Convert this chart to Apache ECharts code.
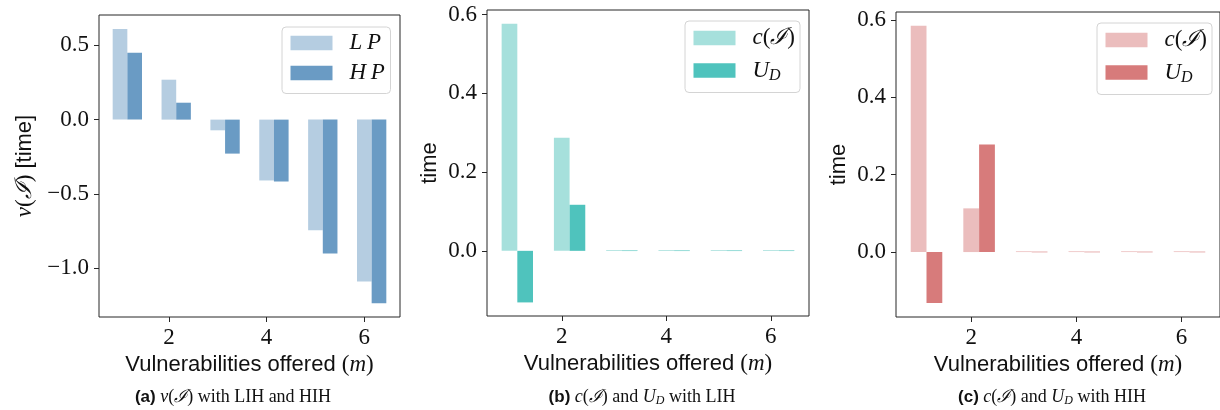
<!DOCTYPE html>
<html>
<head>
<meta charset="utf-8">
<script src="https://cdn.jsdelivr.net/npm/echarts@6/dist/echarts.min.js"></script>
<style>html,body{margin:0;padding:0;background:#fff}#c{width:1220px;height:410px}</style>
</head>
<body>
<div id="c"></div>
<script>
// ---- data ----
const m = [1, 2, 3, 4, 5, 6];
const nuLP = [0.61, 0.269, -0.072, -0.41, -0.745, -1.09];
const nuHP = [0.451, 0.114, -0.229, -0.417, -0.902, -1.238];
const cLIH = [0.577, 0.287, 0.002, 0.002, 0.002, 0.002];
const udLIH = [-0.131, 0.117, 0.001, 0.001, 0.001, 0.001];
const cHIH = [0.585, 0.113, 0.002, 0.002, 0.002, 0.002];
const udHIH = [-0.132, 0.278, 0.001, 0.001, 0.001, 0.001];
const xTicks = [2, 4, 6];
const yTicksA = [-1.0, -0.5, 0.0, 0.5];
const yTicksBC = [0.0, 0.2, 0.4, 0.6];

const SERIF = "'Liberation Serif','DejaVu Serif',serif";
const SANS = "'Liberation Sans','DejaVu Sans',sans-serif";
const FRAME = '#262626';

const grids = [
  {left: 99, top: 15, width: 301, height: 302},
  {left: 487, top: 10, width: 322, height: 306},
  {left: 896, top: 12, width: 326, height: 305}
].map(g => Object.assign({show: true, borderColor: FRAME, borderWidth: 1, backgroundColor: '#fff'}, g));

function fmt(v) {
  const s = Math.abs(v).toFixed(1);
  return (v < -1e-9 ? '\u2212' : '') + s;
}

const xAxes = [0, 1, 2].map(i => ({
  type: 'value', gridIndex: i, min: 0.57, max: 6.73,
  axisLine: {show: false, onZero: false},
  splitLine: {show: false},
  axisTick: {show: true, length: 5, customValues: xTicks, lineStyle: {color: FRAME, width: 1}},
  axisLabel: {customValues: xTicks, margin: 9, color: '#111', fontFamily: SERIF, fontSize: 23},
  name: 'Vulnerabilities offered {m|(}{i|m}{m|)}',
  nameLocation: 'middle', nameGap: 36,
  nameTextStyle: {fontFamily: SANS, fontSize: 22, color: '#111',
    rich: {m: {fontFamily: SERIF, fontSize: 23, color: '#111'},
           i: {fontFamily: SERIF, fontSize: 23, fontStyle: 'italic', color: '#111'}}}
}));

const yRanges = [[-1.33, 0.705], [-0.1655, 0.6117], [-0.1679, 0.6207]];
const yTicks = [yTicksA, yTicksBC, yTicksBC];
const yNames = ['{i|\u03BD}{m|(}{i|\u2110}{m|)} [time]', 'time', 'time'];
const yGaps = [63, 46, 46];
const yAxes = [0, 1, 2].map(i => ({
  type: 'value', gridIndex: i, min: yRanges[i][0], max: yRanges[i][1],
  axisLine: {show: false},
  splitLine: {show: false},
  axisTick: {show: true, length: 5, customValues: yTicks[i], lineStyle: {color: FRAME, width: 1}},
  axisLabel: {customValues: yTicks[i], margin: 10, color: '#111', fontFamily: SERIF, fontSize: 23, formatter: fmt},
  name: yNames[i], nameLocation: 'middle', nameRotate: 90, nameGap: yGaps[i],
  nameTextStyle: {fontFamily: SANS, fontSize: 22, color: '#111',
    rich: {m: {fontFamily: SERIF, fontSize: 23, color: '#111'},
           i: {fontFamily: SERIF, fontSize: 23, fontStyle: 'italic', color: '#111'}}}
}));

const BAR_W = 0.3;
function barSeries(name, values, gi, offset, color) {
  return {
    type: 'custom', name: name, xAxisIndex: gi, yAxisIndex: gi,
    itemStyle: {color: color},
    data: m.map((x, k) => [x, values[k]]),
    renderItem: function (params, api) {
      const x = api.value(0), v = api.value(1);
      const p0 = api.coord([x + offset - BAR_W / 2, 0]);
      const p1 = api.coord([x + offset + BAR_W / 2, v]);
      return {
        type: 'rect',
        shape: {x: p0[0], y: Math.min(p0[1], p1[1]), width: p1[0] - p0[0], height: Math.max(Math.abs(p1[1] - p0[1]), 0.6)},
        style: {fill: color}
      };
    }
  };
}

const series = [
  barSeries('LP', nuLP, 0, 0, '#b5cde1'),
  barSeries('HP', nuHP, 0, 0.3, '#6a9bc4'),
  barSeries('cL', cLIH, 1, 0, '#a6e0dc'),
  barSeries('uL', udLIH, 1, 0.3, '#4fc3bd'),
  barSeries('cH', cHIH, 2, 0, '#ebbdbd'),
  barSeries('uH', udHIH, 2, 0.3, '#d77b7b')
];

const legRich = {
  i: {fontFamily: SERIF, fontSize: 23, fontStyle: 'italic', color: '#111', lineHeight: 22},
  m: {fontFamily: SERIF, fontSize: 23, color: '#111', lineHeight: 22},
  d: {fontFamily: SERIF, fontSize: 16, fontStyle: 'italic', color: '#111', lineHeight: 15, padding: [10, 0, 0, 0]}
};
const legendLabels = {
  LP: '{i|L\u2009P}', HP: '{i|H\u2009P}',
  cL: '{i|c}{m|(}{i|\u2110}{m|)}', uL: '{i|U}{d|D}',
  cH: '{i|c}{m|(}{i|\u2110}{m|)}', uH: '{i|U}{d|D}'
};
function legend(names, left, top, gap, padTop) {
  return {
    data: names, orient: 'vertical', left: left, top: top,
    icon: 'rect', itemWidth: 42, itemHeight: 14.5, itemGap: gap,
    padding: [padTop, 5, 9, 8.5],
    backgroundColor: '#fff', borderColor: '#d4d4d4', borderWidth: 1, borderRadius: 4,
    selectedMode: false,
    formatter: n => legendLabels[n],
    textStyle: {padding: [0, 0, 0, 12], width: 36, lineHeight: 22, rich: legRich}
  };
}

const capRich = {
  b: {fontFamily: SANS, fontWeight: 'bold', fontSize: 17, fill: '#111'},
  s: {fontFamily: SERIF, fontSize: 18, fill: '#111'},
  i: {fontFamily: SERIF, fontSize: 18, fontStyle: 'italic', fill: '#111'},
  d: {fontFamily: SERIF, fontSize: 12, fontStyle: 'italic', fill: '#111', padding: [8, 0, 0, 0]}
};
function caption(text, x) {
  return {type: 'text', x: x, y: 397, style: {text: text, align: 'center', verticalAlign: 'middle', rich: capRich, fill: '#111', font: '18px ' + SERIF}};
}

const chart = echarts.init(document.getElementById('c'), null, {renderer: 'canvas'});
chart.setOption({
  animation: false,
  backgroundColor: '#fff',
  grid: grids, xAxis: xAxes, yAxis: yAxes, series: series,
  legend: [
    legend(['LP', 'HP'], 282, 27, 7, 4.5),
    legend(['cL', 'uL'], 685, 21, 8, 5.5),
    legend(['cH', 'uH'], 1097, 23, 8, 5.5)
  ],
  graphic: [
    caption('{b|(a)} {i|\u03BD}{s|(}{i|\u2110}{s|) with LIH and HIH}', 233),
    caption('{b|(b)} {i|c}{s|(}{i|\u2110}{s|) and }{i|U}{d|D}{s| with LIH}', 642),
    caption('{b|(c)} {i|c}{s|(}{i|\u2110}{s|) and }{i|U}{d|D}{s| with HIH}', 1052)
  ]
});
</script>
</body>
</html>
